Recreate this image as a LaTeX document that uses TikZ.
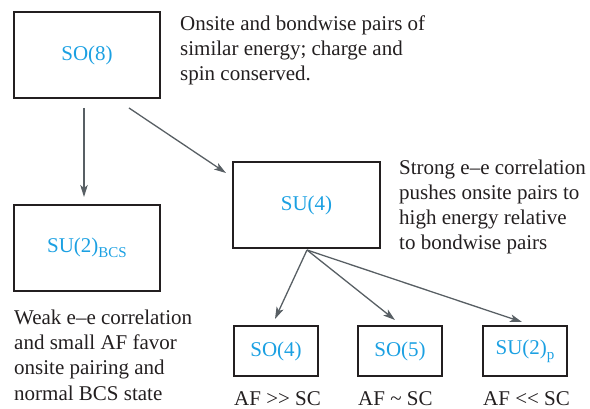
\documentclass[tikz,border=0pt]{standalone}
\usepackage{fontspec}
\setmainfont{Liberation Serif}
\usetikzlibrary{arrows.meta}
\definecolor{lbl}{RGB}{27,160,226}
\definecolor{txt}{RGB}{35,31,32}
\definecolor{arr}{RGB}{88,95,100}
\begin{document}
\begin{tikzpicture}[x=1pt,y=-1pt,
  box/.style={draw=txt,line width=1.3pt,inner sep=0pt},
  lab/.style={text=lbl,font=\fontsize{21}{25}\selectfont},
  desc/.style={text=txt,font=\fontsize{21}{25.3}\selectfont,anchor=base west,align=left,inner sep=0pt},
  conn/.style={draw=arr,line width=1.3pt,-{Stealth[length=12pt,width=7.5pt,inset=3pt]}}]
\useasboundingbox (0,0) rectangle (590,409);
% boxes
\node[box,minimum width=146pt,minimum height=86pt] (so8) at (87,55) {};
\node[lab] at (so8.center) {SO(8)};
\node[box,minimum width=146pt,minimum height=86pt] (bcs) at (87,248) {};
\node[lab] at (bcs.center) {SU(2)\raisebox{-0.25em}{\fontsize{15}{15}\selectfont BCS}};
\node[box,minimum width=147pt,minimum height=86pt] (su4) at (306.5,205) {};
\node[lab] at (su4.center) {SU(4)};
\node[box,minimum width=84pt,minimum height=50pt] (so4) at (276,351) {};
\node[lab] at (so4.center) {SO(4)};
\node[box,minimum width=84pt,minimum height=50pt] (so5) at (400,351) {};
\node[lab] at (so5.center) {SO(5)};
\node[box,minimum width=84pt,minimum height=50pt] (su2p) at (525,351) {};
\node[lab] at (su2p.center) {SU(2)\raisebox{-0.25em}{\fontsize{15}{15}\selectfont p}};
% connector end points
\coordinate (a1s) at (84,108);
\coordinate (a1e) at (84,197);
\coordinate (a2s) at (129,108);
\coordinate (a2e) at (226,173);
\coordinate (h) at (307,250);
\coordinate (e1) at (275,319);
\coordinate (e2) at (395,320);
\coordinate (e3) at (522,322);
\draw[conn] (a1s) -- (a1e);
\draw[conn] (a2s) -- (a2e);
\draw[conn] (h) -- (e1);
\draw[conn] (h) -- (e2);
\draw[conn] (h) -- (e3);
% descriptions (base anchor = last line's baseline)
\node[desc] (t1) at (180,81) {Onsite and bondwise pairs of\\similar energy; charge and\\spin conserved.};
\node[desc] (t2) at (399,250) {Strong e--e correlation\\pushes onsite pairs to\\high energy relative\\to bondwise pairs};
\node[desc] (t3) at (14,400) {Weak e--e correlation\\and small AF favor\\onsite pairing and\\normal BCS state};
\node[desc] (t4) at (234,405) {AF >\kern0pt> SC};
\node[desc] (t5) at (358,405) {AF \textasciitilde\ SC};
\node[desc] (t6) at (483,405) {AF <\kern0pt< SC};
\end{tikzpicture}
\end{document}
